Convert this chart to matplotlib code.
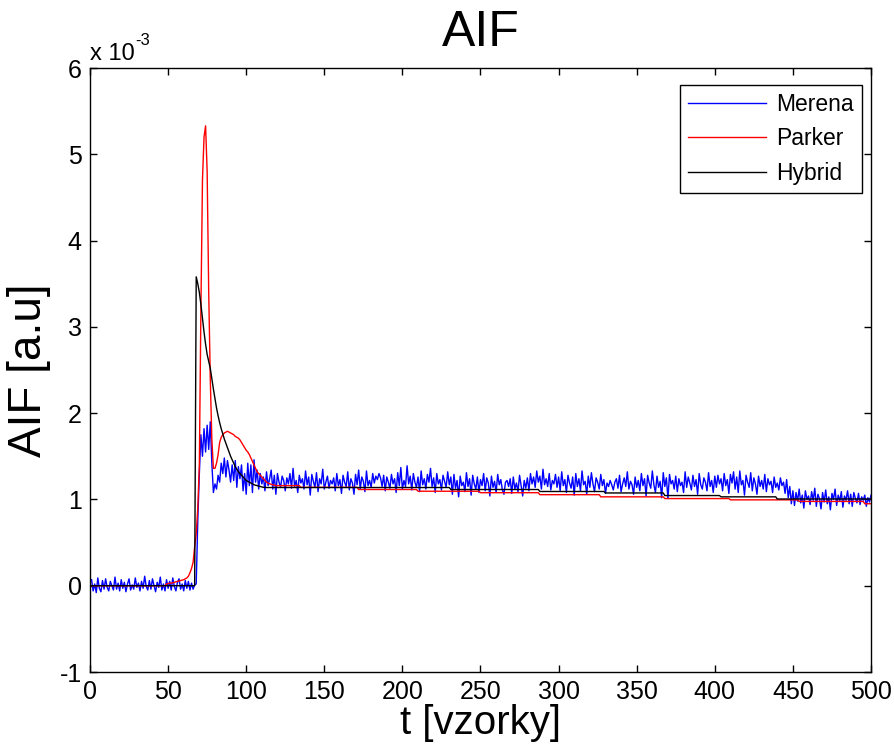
import numpy as np
import matplotlib
matplotlib.use("Agg")
import matplotlib.pyplot as plt
from matplotlib.ticker import FuncFormatter

plt.rcParams["font.family"] = ["Liberation Sans", "DejaVu Sans"]

# ---- data (concentration values in units of 1e-3) ----
# Measured AIF (Merena), samples 1..500, in blocks of 50
merena_001 = [0.07, -0.06, 0.02, -0.08, 0.09, -0.03, -0.07, 0.06, -0.04, 0.08,
              -0.02, -0.06, 0.05, 0.00, -0.05, 0.10, -0.04, 0.03, -0.06, 0.07,
              -0.03, 0.04, -0.07, 0.02, 0.08, -0.05, 0.01, -0.04, 0.09, -0.02,
              0.03, -0.06, 0.05, -0.03, 0.11, -0.01, -0.05, 0.06, -0.04, 0.08,
              0.00, -0.07, 0.04, -0.02, 0.10, -0.05, 0.02, -0.06, 0.07, -0.03]
merena_051 = [0.05, -0.05, 0.09, -0.01, -0.06, 0.04, 0.08, -0.04, 0.02, -0.06,
              0.06, -0.03, 0.05, -0.05, 0.03, -0.04, 0.01,
              0.02, 0.75, 1.30, 1.75, 1.50, 1.82, 1.55, 1.86, 1.58, 1.90,
              1.42, 1.08, 1.18, 1.12, 1.28, 1.20, 1.42, 1.30, 1.48, 1.26,
              1.45, 1.34, 1.20, 1.40, 1.22, 1.45, 1.14, 1.38, 1.24, 1.40,
              1.10, 1.30, 1.06]
merena_101 = [1.42, 1.16, 1.40, 1.08, 1.46, 1.20, 1.34, 1.12, 1.30, 1.18,
              1.26, 1.10, 1.32, 1.16, 1.24, 1.34, 1.12, 1.28, 1.06, 1.30,
              1.20, 1.14, 1.27, 1.22, 1.10, 1.25, 1.18, 1.30, 1.13, 1.36,
              1.15, 1.22, 1.08, 1.28, 1.19, 1.24, 1.12, 1.33, 1.17, 1.26,
              1.05, 1.29, 1.21, 1.14, 1.31, 1.09, 1.24, 1.18, 1.35, 1.12]
merena_151 = [1.20, 1.27, 1.13, 1.22, 1.18, 1.25, 1.10, 1.30, 1.16, 1.23,
              1.07, 1.28, 1.20, 1.15, 1.32, 1.11, 1.24, 1.19, 1.06, 1.29,
              1.17, 1.34, 1.12, 1.26, 1.21, 1.09, 1.33, 1.16, 1.22, 1.14,
              1.30, 1.19, 1.27, 1.23, 1.30, 1.25, 1.15, 1.28, 1.10, 1.26,
              1.20, 1.13, 1.29, 1.18, 1.24, 1.08, 1.31, 1.16, 1.37, 1.12]
merena_201 = [1.22, 1.15, 1.39, 1.18, 1.27, 1.11, 1.30, 1.20, 1.14, 1.26,
              1.09, 1.33, 1.17, 1.24, 1.12, 1.29, 1.20, 1.36, 1.15, 1.25,
              1.08, 1.30, 1.18, 1.23, 1.11, 1.28, 1.21, 1.14, 1.32, 1.17,
              1.26, 1.06, 1.29, 1.13, 1.22, 1.03, 1.27, 1.16, 1.20, 1.09,
              1.31, 1.15, 1.24, 1.05, 1.28, 1.18, 1.12, 1.26, 1.08, 1.23]
merena_251 = [1.16, 1.30, 1.10, 1.25, 1.19, 1.04, 1.27, 1.14, 1.21, 1.08,
              1.29, 1.17, 1.23, 1.11, 1.06, 1.20, 1.22, 1.15, 1.24, 1.07,
              1.26, 1.12, 1.19, 1.09, 1.28, 1.16, 1.04, 1.22, 1.13, 1.25,
              1.10, 1.30, 1.18, 1.26, 1.14, 1.33, 1.20, 1.27, 1.12, 1.35,
              1.17, 1.24, 1.15, 1.30, 1.11, 1.22, 1.18, 1.29, 1.14, 1.26]
merena_301 = [1.10, 1.32, 1.16, 1.23, 1.08, 1.28, 1.19, 1.13, 1.26, 1.05,
              1.30, 1.15, 1.24, 1.10, 1.33, 1.17, 1.21, 1.06, 1.27, 1.14,
              1.31, 1.18, 1.09, 1.25, 1.20, 1.12, 1.29, 1.16, 1.23, 1.07,
              1.19, 1.15, 1.22, 1.17, 1.11, 1.20, 1.24, 1.13, 1.28, 1.09,
              1.18, 1.25, 1.15, 1.32, 1.12, 1.21, 1.17, 1.06, 1.26, 1.14]
merena_351 = [1.22, 1.10, 1.30, 1.16, 1.24, 1.04, 1.28, 1.19, 1.13, 1.33,
              1.17, 1.08, 1.27, 1.14, 1.21, 1.02, 1.31, 1.15, 1.25, 1.01,
              1.29, 1.18, 1.22, 1.12, 1.27, 1.09, 1.24, 1.16, 1.20, 1.08,
              1.32, 1.14, 1.26, 1.19, 1.11, 1.28, 1.15, 1.23, 1.06, 1.30,
              1.17, 1.12, 1.25, 1.20, 1.10, 1.31, 1.15, 1.22, 1.08, 1.27]
merena_401 = [1.14, 1.28, 1.18, 1.24, 1.10, 1.30, 1.16, 1.23, 1.07, 1.29,
              1.19, 1.32, 1.12, 1.26, 1.08, 1.33, 1.17, 1.22, 1.05, 1.28,
              1.20, 1.14, 1.31, 1.10, 1.25, 1.18, 1.06, 1.27, 1.15, 1.22,
              1.12, 1.29, 1.09, 1.24, 1.17, 1.21, 1.08, 1.26, 1.14, 1.19,
              1.11, 1.25, 1.16, 1.20, 1.07, 1.23, 1.02, 1.15, 0.95, 1.10]
merena_451 = [0.93, 1.08, 0.98, 1.12, 0.96, 1.05, 0.90, 1.10, 1.00, 1.04,
              0.94, 1.09, 0.99, 1.13, 0.92, 1.06, 1.01, 0.89, 1.08, 0.97,
              1.11, 0.95, 1.03, 0.88, 1.07, 1.00, 1.12, 0.93, 1.05, 0.98,
              1.09, 0.91, 1.04, 0.99, 1.10, 0.95, 1.06, 0.92, 1.08, 1.01,
              0.96, 1.07, 0.94, 1.03, 0.99, 1.05, 0.92, 1.02, 0.97, 1.05]

# Parker population AIF: zero baseline, bolus transient (samples 49..120), then plateau levels
parker_onset = 49
parker_transient = [0.02, 0.025, 0.03, 0.03, 0.035, 0.04, 0.045, 0.05, 0.055, 0.06,
                    0.065, 0.07, 0.08, 0.09, 0.11, 0.15, 0.20, 0.27, 0.45, 0.60,
                    0.90, 1.40, 3.20, 4.70, 5.20, 5.33, 4.80, 3.40, 2.40, 1.70,
                    1.36, 1.36, 1.42, 1.52, 1.66, 1.72, 1.75, 1.77, 1.78, 1.79,
                    1.78, 1.77, 1.76, 1.75, 1.73, 1.72, 1.71, 1.69, 1.66, 1.63,
                    1.60, 1.57, 1.55, 1.52, 1.48, 1.44, 1.40, 1.36, 1.32, 1.30,
                    1.28, 1.26, 1.24, 1.22, 1.20, 1.19, 1.18, 1.175, 1.17, 1.165,
                    1.16, 1.16]
parker_level_end = [134, 171, 209, 249, 287, 326, 367, 409, 453, 495, 500]
parker_level = [1.16, 1.14, 1.115, 1.095, 1.078, 1.055, 1.03, 1.01, 0.995, 0.977, 0.95]

# Hybrid AIF: zero baseline, step at sample 68 with decay, then plateau levels
hybrid_onset = 68
hybrid_transient = [3.58, 3.50, 3.40, 3.26, 3.10, 2.94, 2.80, 2.68, 2.60, 2.52,
                    2.40, 2.28, 2.17, 2.06, 1.97, 1.89, 1.82, 1.76, 1.70, 1.65,
                    1.60, 1.55, 1.50, 1.46, 1.42, 1.38, 1.35, 1.32, 1.30, 1.28,
                    1.26, 1.24, 1.22, 1.21, 1.20, 1.19, 1.18, 1.17, 1.165, 1.16,
                    1.155, 1.15, 1.145, 1.14, 1.14]
hybrid_level_end = [230, 287, 329, 367, 403, 439, 500]
hybrid_level = [1.138, 1.115, 1.092, 1.075, 1.045, 1.03, 1.005]

x_ticks = list(range(0, 501, 50))
y_ticks = [-1, 0, 1, 2, 3, 4, 5, 6]


def build_series(onset, transient, level_end, level):
    vals = [0.0] * (onset - 1) + list(transient)
    for end, lv in zip(level_end, level):
        vals += [lv] * (end - len(vals))
    return np.array(vals)


merena = np.concatenate([merena_001, merena_051, merena_101, merena_151, merena_201,
                         merena_251, merena_301, merena_351, merena_401, merena_451])
parker = build_series(parker_onset, parker_transient, parker_level_end, parker_level)
hybrid = build_series(hybrid_onset, hybrid_transient, hybrid_level_end, hybrid_level)

scale = 1e-3

fig = plt.figure(figsize=(8.95, 7.54), dpi=100)
W, H = 895, 754
ax = fig.add_axes([90 / W, 1 - 672 / H, 781 / W, 604 / H])

ax.plot(np.arange(1, len(merena) + 1), merena * scale, color=(0, 0, 1), lw=1.0, label="Merena")
ax.plot(np.arange(1, len(parker) + 1), parker * scale, color=(1, 0, 0), lw=1.0, label="Parker")
ax.plot(np.arange(1, len(hybrid) + 1), hybrid * scale, color="black", lw=1.0, label="Hybrid")

ax.set_xlim(0, 500)
ax.set_ylim(-1 * scale, 6 * scale)
ax.set_xticks(x_ticks)
ax.set_yticks([v * scale for v in y_ticks])
ax.yaxis.set_major_formatter(FuncFormatter(lambda v, p: f"{round(v / scale):d}"))

ax.tick_params(direction="in", length=5, width=1, top=True, right=True,
               labelsize=18)
ax.tick_params(axis="y", pad=6)
ax.tick_params(axis="x", pad=6)
for sp in ax.spines.values():
    sp.set_linewidth(1.0)

ax.set_title("AIF", fontsize=36, pad=16)
ax.set_xlabel("t [vzorky]", fontsize=29, labelpad=0)
ax.set_ylabel("AIF [a.u]", fontsize=33, labelpad=6)

# exponent marker above the y axis
fig.text(90 / W, 1 - 60 / H, "x 10", fontsize=17, ha="left", va="baseline")
fig.text(135 / W, 1 - 45 / H, "-3", fontsize=12, ha="left", va="baseline")

leg = ax.legend(loc="upper right", bbox_to_anchor=(1 - 9 / 781, 1 - 17 / 604),
                borderaxespad=0, fontsize=16.5, frameon=True, fancybox=False,
                edgecolor="black", framealpha=1, handlelength=3.4,
                handletextpad=0.45, borderpad=0.35, labelspacing=0.5)
leg.get_frame().set_linewidth(1.0)

fig.savefig("out.png", dpi=100)
